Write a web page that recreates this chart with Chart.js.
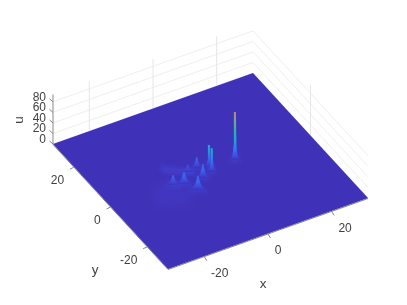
<!DOCTYPE html>
<html lang="en">
<head>
<meta charset="UTF-8">
<title>u(x,y)</title>
<script src="https://cdn.jsdelivr.net/npm/chart.js@4"></script>
<style>
  html, body { margin: 0; padding: 0; background: #fff; }
  canvas { display: block; }
</style>
</head>
<body>
<canvas id="surfaceChart" width="407" height="305"></canvas>
<script>
// axis ticks
const xTicks = [-20, 0, 20];
const yTicks = [20, 0, -20];
const uTicks = [0, 20, 40, 60, 80];
const xWallTicks = [-20, 0, 20];
const yWallTicks = [0];

// limits of the box
const xyLimit = 31.4;
const uTop = 94;

// peaks, far ones first
const peakX = [8.2, 0.5, 0.1, -2.6, -5.6, -3.3, -11.9, -9.1, -7.1];
const peakY = [0.9, 1.7, -0.5, 3.0, 2.7, -1.6, -0.3, -1.4, -5.5];
const peakU = [91, 42, 45, 21, 15, 27, 19, 23, 27];
const peakWidth = [4.5, 4.5, 4.5, 6, 6.5, 6.5, 7, 8, 8];
const peakIsSpike = [true, true, true, false, false, false, false, false, false];

// low ripples around the peaks
const rippleX = [-11, -3.7, -5, -12.1];
const rippleY = [8.3, 2.1, -0.2, 5.4];
const rippleU = [2, 2, 2, 2];
const washX = [-18.5, -11.1, -7.4, -12.7, -20];
const washY = [0.9, 2.8, -4.4, -9.9, -7.2];

// colours along u
const colorU = [0, 6, 16, 28, 40, 55, 70, 91];
const colorMap = ['#4032b8', '#3f48d8', '#3a66ec', '#2a8ce8', '#16aed0', '#24b4ac', '#6ea890', '#ae8a78'];
const shapeLevels = [0, 0.06, 0.15, 0.3, 0.6, 1];
const spikeWidths = [1, 0.7, 0.48, 0.34, 0.27, 0.22];
const moundWidths = [1, 0.82, 0.64, 0.44, 0.24, 0.08];

// maps data to the picture's scale units
function project(x, y, u) {
  return {
    x: 210.5 + 3.185 * x - 1.831 * y,
    y: 171 - 1.13 * x - 1.99 * y - 0.5275 * u
  };
}

const datasets = [];
function addLine(points, color, width) {
  datasets.push({ data: points, showLine: true, pointRadius: 0, borderColor: color, borderWidth: width, fill: false, tension: 0 });
}
function addShape(points, fillColor, blur) {
  datasets.push({ data: points, showLine: true, pointRadius: 0, borderWidth: 0, borderColor: 'transparent', backgroundColor: fillColor, fill: 'shape', tension: 0, blur: blur });
}

const L = xyLimit;

// walls
uTicks.forEach(u => addLine([project(-L, L, u), project(L, L, u), project(L, -L, u)], '#eeeeee', 1));
xWallTicks.forEach(x => addLine([project(x, L, 0), project(x, L, uTop)], '#e6e6e6', 1));
yWallTicks.forEach(y => addLine([project(L, y, 0), project(L, y, uTop)], '#e6e6e6', 1));

// axis lines, sitting just under the surface edge
const axisColor = '#8a8a8a';
addLine([project(-L, L, -1), project(-L, -L, -1)], axisColor, 1);
addLine([project(-L, -L, -1), project(L, -L, -1)], axisColor, 1);
addLine([project(-L, L, 0), project(-L, L, uTop)], axisColor, 1);
xTicks.forEach(x => {
  const a = project(x, -L, -1);
  addLine([a, { x: a.x + 2.5, y: a.y + 4 }], axisColor, 1);
});
yTicks.forEach(y => {
  const a = project(-L, y, -1);
  addLine([a, { x: a.x - 4, y: a.y + 2 }], axisColor, 1);
});
uTicks.forEach(u => {
  const a = project(-L, L, u);
  addLine([a, { x: a.x - 3.5, y: a.y - 3 }], axisColor, 1);
});

// surface floor
addShape([project(-L, L, 0), project(L, L, 0), project(L, -L, 0), project(-L, -L, 0)], '#4032b8');

// soft raised areas
addShape(washX.map((x, i) => project(x, washY[i], 0)), 'rgba(68,62,205,0.35)', 4);
addShape(rippleX.map((x, i) => project(x, rippleY[i], rippleU[i])), 'rgba(70,76,226,0.5)', 2);

// gradient for one peak, base colour at its foot and the right colour at its tip
function uGradient(x, y, u) {
  return function (c) {
    const s = c.chart.scales.y;
    if (!c.chart.chartArea || !s) return colorMap[1];
    const g = c.chart.ctx.createLinearGradient(0, s.getPixelForValue(project(x, y, 0).y), 0, s.getPixelForValue(project(x, y, u).y));
    colorU.forEach((v, i) => {
      if (v <= u) g.addColorStop(v / u, colorMap[i]);
    });
    return g;
  };
}

peakX.forEach((x, i) => {
  const left = [], right = [];
  const widths = peakIsSpike[i] ? spikeWidths : moundWidths;
  shapeLevels.forEach((lv, k) => {
    const p = project(x, peakY[i], peakU[i] * lv);
    const w = peakWidth[i] * widths[k];
    left.push({ x: p.x - w, y: p.y });
    right.unshift({ x: p.x + w, y: p.y });
  });
  // faint skirt first, then the peak itself
  const foot = project(x, peakY[i], 0);
  const tip = project(x, peakY[i], Math.min(peakU[i], 30) * 0.6);
  addShape([
    { x: foot.x - peakWidth[i] * 1.3, y: foot.y + 2 },
    { x: tip.x, y: tip.y },
    { x: foot.x + peakWidth[i] * 1.3, y: foot.y + 2 }
  ], 'rgba(62,84,232,0.35)', 2);
  addShape(left.concat(right), uGradient(x, peakY[i], peakU[i]), 0.7);
});

datasets.forEach((d, i) => { d.order = -i; });

// filler has to run after the blur is set
const blurPlugin = {
  id: 'surfaceBlur',
  beforeDatasetDraw(chart, args) {
    const b = chart.data.datasets[args.index].blur;
    if (b) { chart.ctx.save(); chart.ctx.filter = 'blur(' + b + 'px)'; }
  },
  afterDatasetDraw(chart, args) {
    if (chart.data.datasets[args.index].blur) chart.ctx.restore();
  }
};
Chart.unregister(Chart.Filler);
Chart.register(blurPlugin, Chart.Filler);

const axisText = {
  id: 'axisText',
  afterDatasetsDraw(chart) {
    const { ctx, scales } = chart;
    const put = (text, px, py, align) => {
      ctx.textAlign = align;
      ctx.fillText(text, scales.x.getPixelForValue(px), scales.y.getPixelForValue(py));
    };
    ctx.save();
    ctx.fillStyle = '#404040';
    ctx.textBaseline = 'middle';
    ctx.font = '12px "Liberation Sans"';
    uTicks.forEach(u => {
      const a = project(-L, L, u);
      put(String(u), a.x - 7, a.y - 4.5, 'right');
    });
    yTicks.forEach(y => {
      const a = project(-L, y, 0);
      put(String(y), a.x - 9.7, a.y + 14.5, 'right');
    });
    xTicks.forEach(x => {
      const a = project(x, -L, 0);
      put(String(x), a.x + 6.7, a.y + 17.5, 'left');
    });
    ctx.font = '13.5px "Liberation Sans"';
    put('x', 263, 284, 'center');
    put('y', 95, 270.5, 'center');
    ctx.translate(19.5, 120);
    ctx.rotate(-Math.PI / 2);
    ctx.textAlign = 'center';
    ctx.fillText('u', 0, 0);
    ctx.restore();
  }
};

new Chart(document.getElementById('surfaceChart'), {
  type: 'scatter',
  data: { datasets },
  plugins: [axisText],
  options: {
    responsive: false,
    animation: false,
    events: [],
    layout: { padding: 0 },
    plugins: { legend: { display: false }, tooltip: { enabled: false } },
    scales: {
      x: { type: 'linear', display: false, min: 0, max: 407 },
      y: { type: 'linear', display: false, min: 0, max: 305, reverse: true }
    }
  }
});
</script>
</body>
</html>
